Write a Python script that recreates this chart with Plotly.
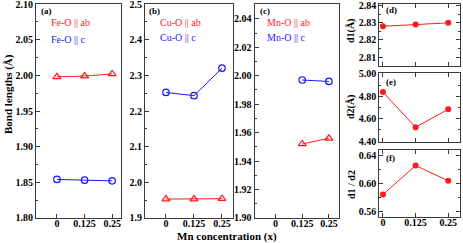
import plotly.graph_objects as go

# ---- data ----
x_conc = [0, 0.125, 0.25]
x_mn = [0.125, 0.25]
feo_ab = [1.998, 1.999, 2.002]
feo_c = [1.854, 1.853, 1.852]
cuo_ab = [1.953, 1.953, 1.954]
cuo_c = [2.252, 2.243, 2.320]
mno_ab = [1.952, 1.956]
mno_c = [1.997, 1.996]
d1 = [2.828, 2.829, 2.830]
d2 = [4.838, 4.523, 4.685]
d1_d2 = [0.584, 0.626, 0.604]
x_tickvals = [0, 0.125, 0.25]
x_ticktext = ["0", "0.125", "0.25"]

W, H = 463, 243
RED = "#ff1a1a"
BLUE = "#1a1aff"
AX = "#3a3a3a"
SERIF = "Liberation Serif"

def px_x(a, b):
    return [a / W, b / W]

def px_y(top, bottom):
    return [1 - bottom / H, 1 - top / H]

fig = go.Figure()

def hollow(x, y, color, symbol, xa, ya, size):
    fig.add_trace(go.Scatter(
        x=x, y=y, mode="lines+markers", xaxis=xa, yaxis=ya,
        line=dict(color=color, width=1),
        marker=dict(symbol=symbol, size=size, color=color,
                    line=dict(color=color, width=1.2)),
        showlegend=False, hoverinfo="skip"))

def filled(x, y, xa, ya):
    fig.add_trace(go.Scatter(
        x=x, y=y, mode="lines+markers", xaxis=xa, yaxis=ya,
        line=dict(color=RED, width=1),
        marker=dict(symbol="circle", size=6, color=RED),
        showlegend=False, hoverinfo="skip"))

hollow(x_conc, feo_ab, RED, "triangle-up-open", "x", "y", 7)
hollow(x_conc, feo_c, BLUE, "circle-open", "x", "y", 6.5)
hollow(x_conc, cuo_ab, RED, "triangle-up-open", "x2", "y2", 7)
hollow(x_conc, cuo_c, BLUE, "circle-open", "x2", "y2", 6.5)
hollow(x_mn, mno_ab, RED, "triangle-up-open", "x3", "y3", 7)
hollow(x_mn, mno_c, BLUE, "circle-open", "x3", "y3", 6.5)
filled(x_conc, d1, "x4", "y4")
filled(x_conc, d2, "x5", "y5")
filled(x_conc, d1_d2, "x6", "y6")

tickfont = dict(family=SERIF, size=10, color="black", weight="bold")

def xax(domain, rng, anchor, labels=True, mirror=True):
    return dict(domain=domain, range=rng, anchor=anchor,
                tickvals=x_tickvals, ticktext=x_ticktext,
                showticklabels=labels, ticks="inside", ticklen=4,
                tickcolor=AX, tickwidth=1, automargin=False,
                ticklabelstandoff=-4, ticklabeloverflow="allow",
                showline=True, linecolor=AX, linewidth=1, mirror=mirror,
                showgrid=False, zeroline=False, tickfont=tickfont)

def yax(domain, rng, anchor, dtick, fmt, mirror=True, tick0=None):
    d = dict(domain=domain, range=rng, anchor=anchor, dtick=dtick,
             tickformat=fmt, ticks="inside", ticklen=4, tickcolor=AX,
             tickwidth=1, showline=True, linecolor=AX, linewidth=1,
             mirror=mirror, showgrid=False, zeroline=False,
             tickfont=tickfont, automargin=False, ticklabeloverflow="allow",
             minor=dict(dtick=dtick / 2, ticks="inside", ticklen=2,
                        tickcolor=AX, showgrid=False))
    if tick0 is not None:
        d["tick0"] = tick0
        d["minor"]["tick0"] = tick0
    return d

ya = px_y(4, 218)
fig.update_layout(
    xaxis=xax(px_x(36, 121), [-0.095, 0.29], "y"),
    yaxis=yax(ya, [1.7999, 2.1001], "x", 0.05, ".2f", tick0=1.8),
    xaxis2=xax(px_x(145, 232.5), [-0.0937, 0.297], "y2"),
    yaxis2=yax(ya, [1.8999, 2.5001], "x2", 0.1, ".1f", tick0=1.9),
    xaxis3=xax(px_x(254.5, 339.3), [-0.099, 0.2987], "y3"),
    yaxis3=yax(ya, [1.8999, 2.0505], "x3", 0.02, ".2f", tick0=1.9),
    xaxis4=xax(px_x(379.3, 460), [-0.014, 0.295], "y4", labels=False, mirror="ticks"),
    yaxis4=yax(px_y(4, 65.7), [2.805, 2.841], "x4", 0.01, ".2f", mirror="ticks", tick0=2.80),
    xaxis5=xax(px_x(379.3, 460), [-0.014, 0.295], "y5", labels=False, mirror="ticks"),
    yaxis5=yax(px_y(73.3, 141.7), [4.395, 5.005], "x5", 0.2, ".2f", mirror="ticks", tick0=4.4),
    xaxis6=xax(px_x(379.3, 460), [-0.014, 0.295], "y6", mirror="ticks"),
    yaxis6=yax(px_y(150, 217), [0.5513, 0.6487], "x6", 0.04, ".2f", mirror="ticks", tick0=0.56),
    width=W, height=H,
    margin=dict(l=0, r=0, t=0, b=0, autoexpand=False),
    paper_bgcolor="white", plot_bgcolor="white",
)

ann = []

def text(x, y, s, color="black", size=10, bold=False, angle=0, xanchor="left"):
    ann.append(dict(x=x / W, y=1 - y / H, xref="paper", yref="paper",
                    text=s, showarrow=False, xanchor=xanchor, yanchor="middle",
                    textangle=angle,
                    font=dict(family=SERIF, size=size, color=color,
                              weight="bold" if bold else "normal")))

# panel labels
text(39, 11, "(a)", size=9, bold=True)
text(147, 11.5, "(b)", size=9, bold=True)
text(258, 11, "(c)", size=9, bold=True)
text(384, 10, "(d)", size=9, bold=True)
text(384, 82, "(e)", size=9, bold=True)
text(384, 158, "(f)", size=9, bold=True)
# legends
text(49, 22.5, "Fe-O || ab", RED)
text(49, 39.5, "Fe-O || c", BLUE)
text(158, 22.5, "Cu-O || ab", RED)
text(158, 38, "Cu-O || c", BLUE)
text(265, 22.5, "Mn-O || ab", RED)
text(265, 38, "Mn-O || c", BLUE)
# axis titles
text(8, 94, "Bond lengths (Å)", size=11, bold=True, angle=-90, xanchor="center")
text(227, 236, "Mn concentration (x)", size=11, bold=True, xanchor="center")
text(351, 31, "d1(Å)", size=10, bold=True, angle=-90, xanchor="center")
text(351, 107, "d2(Å)", size=10, bold=True, angle=-90, xanchor="center")
text(351, 185, "d1 / d2", size=10, bold=True, angle=-90, xanchor="center")

fig.update_layout(annotations=ann)
fig.write_html("out.html", config={"displayModeBar": False},
               post_script="document.body.style.margin='0px';document.body.style.overflow='hidden';")
